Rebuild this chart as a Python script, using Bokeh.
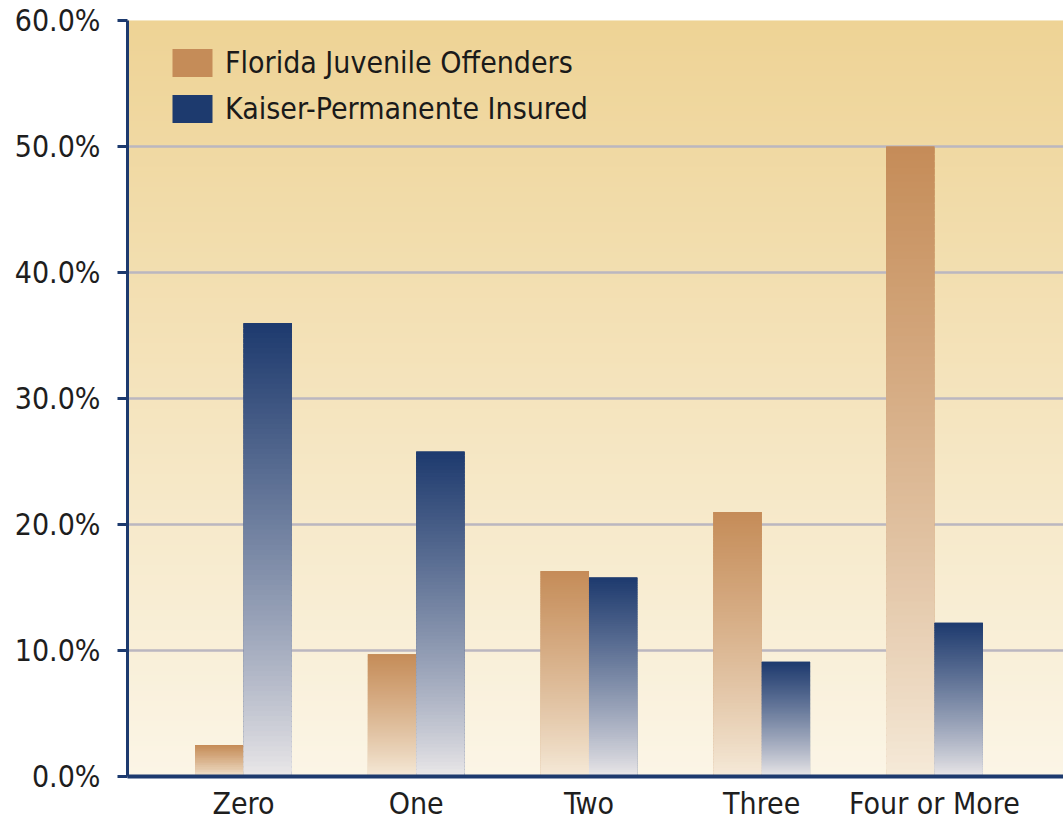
import numpy as np
from bokeh.plotting import figure
from bokeh.models import Range1d, FixedTicker, Legend, LegendItem, ColumnDataSource
from bokeh.embed import file_html
from bokeh.resources import INLINE

categories = ["Zero", "One", "Two", "Three", "Four or More"]
florida = [2.5, 9.7, 16.3, 21.0, 50.0]
kaiser = [36.0, 25.8, 15.8, 9.1, 12.2]
series_names = ["Florida Juvenile Offenders", "Kaiser-Permanente Insured"]
y_ticks = [0, 10, 20, 30, 40, 50, 60]
y_tick_labels = ["0.0%", "10.0%", "20.0%", "30.0%", "40.0%", "50.0%", "60.0%"]

FONT = "DejaVu Sans Condensed"
NAVY = "#1D3A6E"
TAN = "#C58C58"
TAN_LOW = "#F6EBDA"
NAVY_LOW = "#ECE9EA"
BG_TOP = "#EED395"
BG_BOT = "#FBF5E6"

X0, X1 = -0.6715, 4.747
BAR_W = 0.28


def hex2rgb(h):
    h = h.lstrip("#")
    return np.array([int(h[i:i + 2], 16) for i in (0, 2, 4)], dtype=float)


def mix(c_low, c_high, t):
    a, b = hex2rgb(c_low), hex2rgb(c_high)
    c = a + (b - a) * t
    return "#%02x%02x%02x" % tuple(int(round(v)) for v in c)


p = figure(width=1063, height=825, output_backend="svg", toolbar_location=None,
           x_range=Range1d(X0, X1), y_range=Range1d(0, 60),
           min_border_left=127, min_border_top=20, min_border_bottom=49, min_border_right=0)
p.outline_line_color = None
p.border_fill_color = "white"
p.background_fill_color = BG_BOT

# background gradient (drawn below grid)
nb = 150
bb = np.linspace(0, 60, nb + 1)[:-1]
step = 60.0 / nb
bg = ColumnDataSource(dict(
    left=[X0] * nb, right=[X1] * nb, bottom=list(bb), top=list(bb + step * 1.6),
    color=[mix(BG_BOT, BG_TOP, (b + step / 2) / 60.0) for b in bb]))
p.quad(left="left", right="right", bottom="bottom", top="top", fill_color="color",
       line_color=None, source=bg, level="image")

xs = np.arange(len(categories))
fl_x = list(xs - BAR_W / 2)
ka_x = list(xs + BAR_W / 2)

r_fl = p.vbar(x=fl_x, top=florida, width=BAR_W, fill_color=TAN, line_color=None)
r_ka = p.vbar(x=ka_x, top=kaiser, width=BAR_W, fill_color=NAVY, line_color=None)


def grad_source(xc, vals, c_low, c_high, n=90):
    L, R, B, T, C = [], [], [], [], []
    for x, v in zip(xc, vals):
        st = v / n
        for i in range(n):
            b = st * i
            t = min(v, b + st * 1.8)
            frac = (i + 0.5) / n
            L.append(x - BAR_W / 2)
            R.append(x + BAR_W / 2)
            B.append(b)
            T.append(t)
            C.append(mix(c_low, c_high, frac ** 0.85))
    return ColumnDataSource(dict(left=L, right=R, bottom=B, top=T, color=C))


p.quad(left="left", right="right", bottom="bottom", top="top", fill_color="color",
       line_color=None, source=grad_source(fl_x, florida, TAN_LOW, TAN))
p.quad(left="left", right="right", bottom="bottom", top="top", fill_color="color",
       line_color=None, source=grad_source(ka_x, kaiser, NAVY_LOW, NAVY))

# axes
p.yaxis.ticker = FixedTicker(ticks=y_ticks)
p.yaxis.major_label_overrides = {t: l for t, l in zip(y_ticks, y_tick_labels)}
p.yaxis.axis_line_color = NAVY
p.yaxis.axis_line_width = 3
p.yaxis.major_tick_line_color = NAVY
p.yaxis.major_tick_line_width = 3
p.yaxis.major_tick_out = 10
p.yaxis.major_tick_in = 0
p.yaxis.minor_tick_line_color = None
p.yaxis.major_label_text_font = FONT
p.yaxis.major_label_text_font_size = "30px"
p.yaxis.major_label_text_color = "#1e1e1e"
p.yaxis.major_label_standoff = 17

p.xaxis.ticker = FixedTicker(ticks=list(xs))
p.xaxis.major_label_overrides = {int(i): c for i, c in zip(xs, categories)}
p.xaxis.axis_line_color = NAVY
p.xaxis.axis_line_width = 4
p.xaxis.major_tick_line_color = None
p.xaxis.minor_tick_line_color = None
p.xaxis.major_tick_out = 0
p.xaxis.major_tick_in = 0
p.xaxis.major_label_text_font = FONT
p.xaxis.major_label_text_font_size = "30px"
p.xaxis.major_label_text_color = "#1e1e1e"
p.xaxis.major_label_standoff = 9

p.xgrid.grid_line_color = None
p.ygrid.ticker = FixedTicker(ticks=[10, 20, 30, 40, 50, 60])
p.ygrid.grid_line_color = "#BBB7C0"
p.ygrid.grid_line_width = 2.5
p.ygrid.level = "underlay"

legend = Legend(items=[LegendItem(label=series_names[0], renderers=[r_fl]),
                       LegendItem(label=series_names[1], renderers=[r_ka])],
                location=(40, 650))
legend.background_fill_alpha = 0
legend.border_line_alpha = 0
legend.glyph_width = 50
legend.glyph_height = 35
legend.label_height = 35
legend.label_standoff = 8
legend.spacing = 11
legend.padding = 0
legend.margin = 0
legend.label_text_font = FONT
legend.label_text_font_size = "30px"
legend.label_text_color = "#1a1a1a"
p.add_layout(legend, "center")

open("out.html", "w").write(file_html(p, INLINE))
